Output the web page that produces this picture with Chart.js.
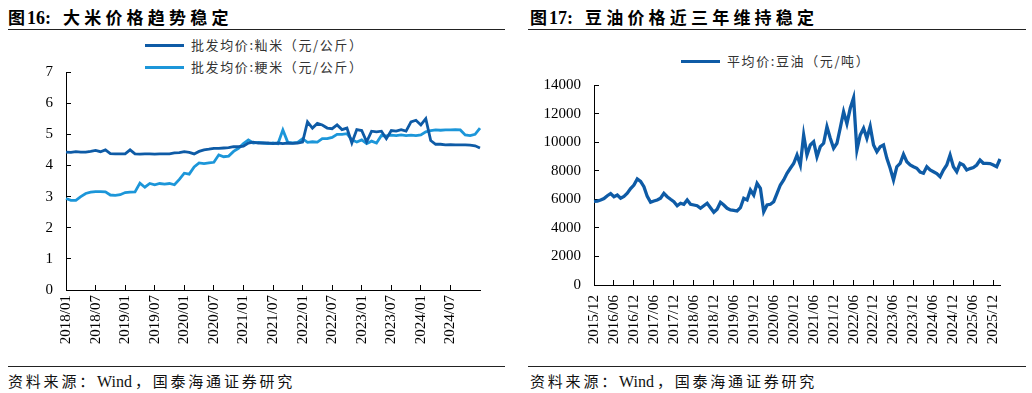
<!DOCTYPE html>
<html>
<head>
<meta charset="utf-8">
<title>大米与豆油价格</title>
<script src="https://cdn.jsdelivr.net/npm/chart.js@4.4.1/dist/chart.umd.min.js"></script>
<style>
  body { margin: 0; width: 1032px; height: 393px; background: #fff; position: relative; overflow: hidden; }
  .title { position: absolute; top: 4px; font-family: "Liberation Serif", "Noto Sans CJK SC", serif; font-weight: bold; font-size: 17px; color: #000; white-space: nowrap; }
  .title .num { margin-left: 2px; margin-right: 12px; font-size: 18px; }
  .title .txt { letter-spacing: 4.2px; }
  .rule { position: absolute; height: 0; border-top: 1.5px solid #222; }
  .source { position: absolute; top: 370px; font-family: "Liberation Serif", "Noto Sans CJK SC", serif; font-size: 15px; letter-spacing: 2.8px; color: #111; white-space: nowrap; }
  .source .en { letter-spacing: 0; margin-right: 3px; font-size: 16px; }
  .legend { position: absolute; font-family: "Noto Sans CJK SC", sans-serif; font-size: 13px; letter-spacing: 1.6px; color: #333; white-space: nowrap; line-height: 16px; }
  .legend i { display: inline-block; width: 39px; height: 3px; vertical-align: middle; margin-right: 7px; position: relative; top: -1px; }
  canvas { position: absolute; }
</style>
</head>
<body>
<div class="title" style="left:8px">图<span class="num">16:</span><span class="txt">大米价格趋势稳定</span></div>
<div class="rule" style="left:8px; width:497px; top:29px"></div>
<div class="legend" style="left:145px; top:37px"><i style="background:#0e5ba6"></i>批发均价:籼米（元/公斤）</div>
<div class="legend" style="left:145px; top:59px"><i style="background:#1c96d9"></i>批发均价:粳米（元/公斤）</div>
<canvas id="rice" width="490" height="305" style="left:0; top:60px"></canvas>
<div class="rule" style="left:8px; width:497px; top:366px"></div>
<div class="source" style="left:8px">资料来源：<span class="en">Wind</span>，国泰海通证券研究</div>

<div class="title" style="left:530px">图<span class="num">17:</span><span class="txt">豆油价格近三年维持稳定</span></div>
<div class="rule" style="left:528px; width:498px; top:29px"></div>
<div class="legend" style="left:681px; top:53px"><i style="background:#0e5ba6"></i>平均价:豆油（元/吨）</div>
<canvas id="soy" width="494" height="305" style="left:516px; top:60px"></canvas>
<div class="rule" style="left:528px; width:498px; top:366px"></div>
<div class="source" style="left:530px">资料来源：<span class="en">Wind</span>，国泰海通证券研究</div>

<script>
// monthly categories
function months(startYear, startMonth, count) {
  const out = [];
  for (let i = 0; i < count; i++) {
    const t = startYear * 12 + (startMonth - 1) + i;
    const y = Math.floor(t / 12);
    const m = (t % 12) + 1;
    out.push(y + "/" + (m < 10 ? "0" + m : m));
  }
  return out;
}

const riceMonths = months(2018, 1, 85); // 2018/01 .. 2025/01
const riceTicks = ["2018/01", "2018/07", "2019/01", "2019/07", "2020/01", "2020/07", "2021/01",
  "2021/07", "2022/01", "2022/07", "2023/01", "2023/07", "2024/01", "2024/07"];

// 批发均价:籼米（元/公斤）
const indicaRice = [
  4.43, 4.42, 4.44, 4.43, 4.43, 4.45, 4.48, 4.44, 4.50, 4.38, 4.37, 4.37,
  4.37, 4.50, 4.37, 4.36, 4.37, 4.37, 4.36, 4.37, 4.37, 4.37, 4.40, 4.41,
  4.44, 4.42, 4.37, 4.45, 4.50, 4.52, 4.55, 4.55, 4.56, 4.57, 4.60, 4.60,
  4.62, 4.72, 4.75, 4.72, 4.72, 4.72, 4.70, 4.72, 4.70, 4.72, 4.71, 4.72,
  4.75, 5.40, 5.20, 5.35, 5.30, 5.20, 5.18, 5.30, 5.15, 5.20, 4.72, 5.15,
  5.12, 4.76, 5.10, 5.08, 5.10, 4.86, 5.12, 5.10, 5.15, 5.10, 5.40, 5.45,
  5.30, 5.50, 4.80, 4.68, 4.68, 4.66, 4.67, 4.66, 4.66, 4.66, 4.65, 4.63,
  4.56
];

// 批发均价:粳米（元/公斤）
const japonicaRice = [
  2.94, 2.88, 2.88, 3.00, 3.10, 3.14, 3.16, 3.16, 3.15, 3.05, 3.04, 3.06,
  3.13, 3.14, 3.15, 3.43, 3.30, 3.42, 3.38, 3.42, 3.40, 3.42, 3.38, 3.55,
  3.75, 3.72, 3.95, 4.08, 4.06, 4.08, 4.10, 4.34, 4.28, 4.30, 4.45, 4.55,
  4.70, 4.82, 4.72, 4.74, 4.72, 4.70, 4.72, 4.70, 5.14, 4.74, 4.72, 4.74,
  4.86, 4.74, 4.76, 4.75, 4.86, 4.86, 4.90, 5.00, 5.00, 5.02, 4.82, 4.75,
  4.82, 4.70, 4.78, 4.72, 4.96, 4.95, 4.97, 4.96, 4.98, 4.96, 4.97, 4.96,
  4.98, 5.08, 5.12, 5.14, 5.13, 5.14, 5.14, 5.15, 5.14, 4.98, 4.96, 5.00,
  5.20
];

const soyMonths = months(2015, 12, 123); // 2015/12 .. 2026/02
const soyTicks = ["2015/12", "2016/06", "2016/12", "2017/06", "2017/12", "2018/06", "2018/12",
  "2019/06", "2019/12", "2020/06", "2020/12", "2021/06", "2021/12", "2022/06", "2022/12",
  "2023/06", "2023/12", "2024/06", "2024/12", "2025/06", "2025/12"];

// 平均价:豆油（元/吨）
const soyOil = [
  5850, 5870, 5950, 6050, 6250, 6400, 6180, 6300, 6070, 6200, 6420, 6750,
  7000, 7420, 7250, 6880, 6200, 5790, 5880, 5950, 6070, 6420, 6180, 6000,
  5830, 5550, 5720, 5650, 5950, 5650, 5600, 5550, 5370, 5550, 5720, 5410,
  5090, 5300, 5790, 5600, 5370, 5250, 5230, 5180, 5410, 6070, 5950, 6650,
  6300, 7120, 6770, 5130, 5600, 5650, 5830, 6420, 7000, 7350, 7820, 8170,
  8500, 9100, 8400, 10500, 9100, 9800, 10030, 8980, 9680, 9920, 11080, 10270,
  9570, 9920, 11000, 12130, 11300, 12370, 13100, 9450, 10500, 10970, 10270, 11100,
  9800, 9330, 9680, 9800, 8870, 8170, 7350, 8280, 8520, 9150, 8630, 8400,
  8280, 8170, 7900, 7820, 8280, 8050, 7930, 7800, 7580, 8050, 8400, 9100,
  8280, 7930, 8520, 8400, 8050, 8150, 8220, 8400, 8750, 8520, 8520, 8500,
  8400, 8280, 8820
];

const darkBlue = "#0e5ba6";
const lightBlue = "#1c96d9";
const tickFont = { family: "Liberation Serif", size: 15 };

function makeChart(id, labels, tickList, datasets, yOpts, dims) {
  const ctx = document.getElementById(id).getContext("2d");
  return new Chart(ctx, {
    type: "line",
    data: { labels: labels, datasets: datasets },
    options: {
      responsive: false,
      animation: false,
      layout: { padding: { top: dims.top, right: 10, bottom: 0, left: 0 } },
      plugins: { legend: { display: false }, tooltip: { enabled: false } },
      elements: { point: { radius: 0 }, line: { tension: 0 } },
      scales: {
        x: {
          type: "category",
          border: { display: true, color: "#000", width: 1 },
          grid: {
            drawOnChartArea: false,
            tickLength: -5,
            tickColor: (c) => (tickList.includes(labels[c.index]) ? "#000" : "rgba(0,0,0,0)"),
          },
          ticks: {
            autoSkip: false,
            minRotation: 90,
            maxRotation: 90,
            padding: dims.xPad,
            color: "#000",
            font: tickFont,
            callback: function (value, index) {
              return tickList.includes(labels[index]) ? labels[index] : "";
            },
          },
          afterFit: (scale) => {
            scale.height = dims.xHeight;
            scale.paddingLeft = 0;
            scale.paddingRight = 0;
          },
        },
        y: Object.assign({
          border: { display: true, color: "#000", width: 1 },
          grid: { drawOnChartArea: false, tickLength: -5, tickColor: "#000" },
          afterFit: (scale) => {
            scale.width = dims.yWidth;
            scale.paddingTop = 0;
            scale.paddingBottom = 0;
          },
        }, yOpts),
      },
    },
  });
}

makeChart("rice", riceMonths, riceTicks, [
  { label: "批发均价:籼米（元/公斤）", data: indicaRice, borderColor: darkBlue, backgroundColor: darkBlue, borderWidth: 2.8 },
  { label: "批发均价:粳米（元/公斤）", data: japonicaRice, borderColor: lightBlue, backgroundColor: lightBlue, borderWidth: 2.8 },
], {
  min: 0, max: 7,
  ticks: { stepSize: 1, padding: 18, color: "#000", font: tickFont },
}, { top: 12, xPad: 10, xHeight: 75, yWidth: 66 });

makeChart("soy", soyMonths, soyTicks, [
  { label: "平均价:豆油（元/吨）", data: soyOil, borderColor: darkBlue, backgroundColor: darkBlue, borderWidth: 3.3 },
], {
  min: 0, max: 14000,
  ticks: { stepSize: 2000, padding: 18, color: "#000", font: tickFont, callback: (v) => String(v) },
}, { top: 25, xPad: 15, xHeight: 80, yWidth: 78 });
</script>
</body>
</html>
